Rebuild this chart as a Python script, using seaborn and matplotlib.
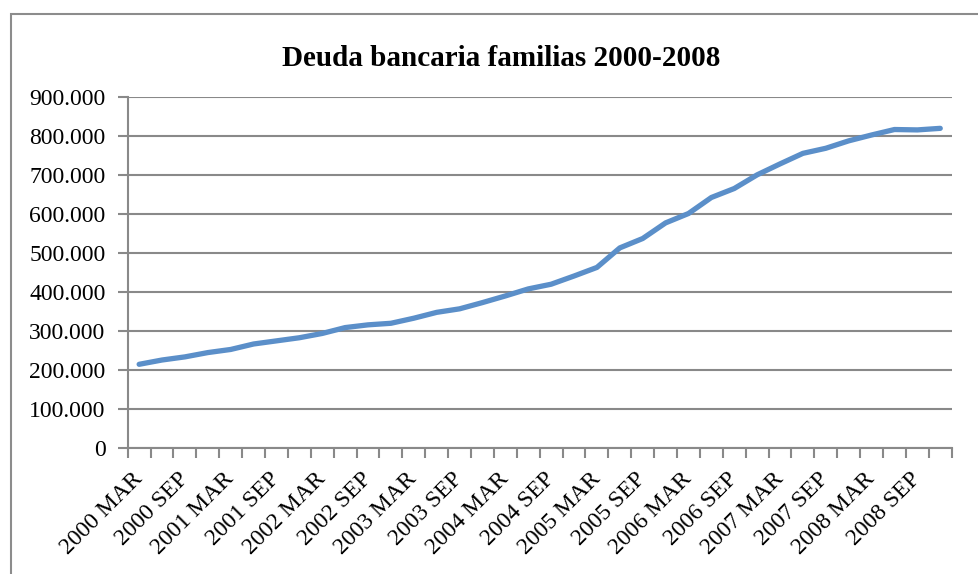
import matplotlib
matplotlib.use("Agg")
import matplotlib.pyplot as plt
from matplotlib.patches import Rectangle
from matplotlib.ticker import FixedLocator, FuncFormatter
import seaborn as sns
import pandas as pd
import numpy as np

years = [str(y) for y in range(2000, 2009)]
quarters = ["MAR", "JUN", "SEP", "DIC"]
periods = [f"{y} {q}" for y in years for q in quarters]
deuda = [215, 226, 234, 245, 253, 267, 275, 283, 294, 309, 316, 320,
         333, 348, 357, 373, 390, 408, 420, 441, 463, 513, 537, 577,
         601, 642, 665, 700, 728, 755, 768, 787, 802, 816, 815, 819]
deuda = [v * 1000 for v in deuda]
title = "Deuda bancaria familias 2000-2008"

df = pd.DataFrame({"idx": np.arange(len(periods)), "periodo": periods, "deuda": deuda})

sns.set_style("white")
plt.rcParams["font.family"] = ["Liberation Serif", "DejaVu Serif"]
plt.rcParams["text.color"] = "black"
plt.rcParams["xtick.color"] = "black"
plt.rcParams["ytick.color"] = "black"

W, H = 979, 574
fig = plt.figure(figsize=(W / 100, H / 100), dpi=100)
ax = fig.add_axes([127.7 / W, 1 - 448.3 / H, (951.7 - 127.7) / W, (448.3 - 96.7) / H])

grid_c = "#898989"
sns.lineplot(data=df, x="idx", y="deuda", ax=ax, color="#5B8FC9", lw=3.8,
             solid_capstyle="round", solid_joinstyle="round", zorder=3)

ax.set_xlim(-0.5, len(periods) - 0.5)
ax.set_ylim(0, 900000)
ax.set_yticks(np.arange(0, 900001, 100000))
ax.yaxis.set_major_formatter(FuncFormatter(lambda v, p: f"{int(v):,}".replace(",", ".")))
ax.grid(axis="y", color=grid_c, lw=1.5)
ax.set_axisbelow(True)

major = list(range(0, len(periods), 2))
ax.xaxis.set_major_locator(FixedLocator(major))
ax.set_xticklabels([periods[i] for i in major], rotation=45, ha="right",
                   va="center", rotation_mode="anchor", fontsize=17, color="black")
ax.xaxis.set_minor_locator(FixedLocator(np.arange(-0.5, len(periods), 1)))
ax.tick_params(axis="x", which="major", length=0, pad=20)
ax.tick_params(axis="x", which="minor", length=7, width=1.5, color=grid_c, direction="out")
ax.tick_params(axis="y", length=7, width=1.5, color=grid_c, direction="out",
               labelsize=17, labelcolor="black", pad=9)
ax.tick_params(axis="x", which="minor", bottom=True)
ax.tick_params(axis="x", which="major", bottom=False)
ax.tick_params(axis="y", left=True)

for s in ["top", "right"]:
    ax.spines[s].set_visible(False)
for s in ["left", "bottom"]:
    ax.spines[s].set_color(grid_c)
    ax.spines[s].set_linewidth(1.5)

ax.set_xlabel("")
ax.set_ylabel("")

fig.text(501 / W, 1 - 59 / H, title, ha="center", va="center",
         fontsize=21, fontweight="bold", color="black")

fig.patches.append(Rectangle((11 / W, -0.1), 1.2, 1 - 14 / H + 0.1, transform=fig.transFigure,
                             fill=False, edgecolor="#8c8c8c", lw=1.5))

fig.savefig("out.png", dpi=100, facecolor="white")
